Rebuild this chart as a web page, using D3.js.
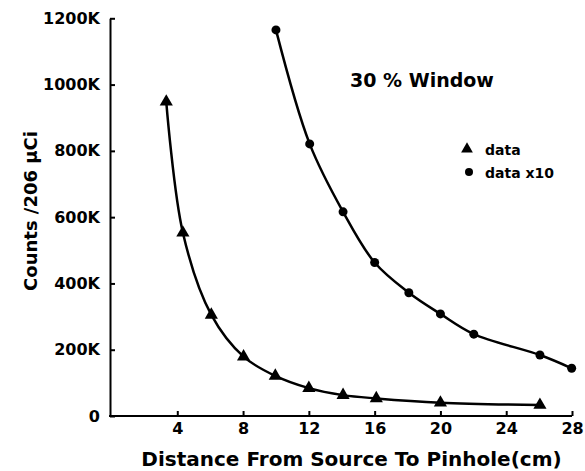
<!DOCTYPE html>
<html>
<head>
<meta charset="utf-8">
<script src="https://cdn.jsdelivr.net/npm/d3@7"></script>
<style>
  html, body { margin: 0; padding: 0; background: #fff; }
  svg { display: block; }
  text { font-family: "DejaVu Sans", sans-serif; font-weight: bold; fill: #000; }
</style>
</head>
<body>
<div id="chart"></div>
<script>
// ---- data (distance in cm, counts in thousands) ----
const triDistance = [3.33, 4.34, 6.07, 8.03, 9.96, 12.0, 14.08, 16.1, 20.0, 26.05];
const triCounts   = [948, 553, 305, 179, 121, 84, 63, 53, 40, 33];
const dotDistance = [10.0, 12.05, 14.08, 16.0, 18.08, 20.0, 22.03, 26.05, 27.98];
const dotCounts   = [1165, 821, 616, 463, 372, 308, 247, 184, 144];
const xTickValues = [4, 8, 12, 16, 20, 24, 28];
const yTickValues = [0, 200, 400, 600, 800, 1000, 1200];
const seriesNames = ["data", "data x10"];
const titleText = "30 % Window";
const xAxisTitle = "Distance From Source To Pinhole(cm)";
const yAxisTitle = "Counts /206 \u00b5Ci";

const W = 585, H = 471;
const svg = d3.select("#chart").append("svg").attr("width", W).attr("height", H);

const x = d3.scaleLinear().domain([0, 28]).range([111.5, 572]);
const y = d3.scaleLinear().domain([0, 1200]).range([416, 18.3]);

// axes
const xAxis = d3.axisBottom(x).tickValues(xTickValues).tickSizeInner(-5).tickSizeOuter(0).tickPadding(7);
const yAxis = d3.axisLeft(y).tickValues(yTickValues).tickSizeInner(-5).tickSizeOuter(0).tickPadding(10)
  .tickFormat(d => d === 0 ? "0" : d + "K");

const gx = svg.append("g").attr("transform", `translate(0,${y(0)})`).call(xAxis);
const gy = svg.append("g").attr("transform", `translate(${x(0) - 1.5},0)`).call(yAxis);
[gx, gy].forEach(g => {
  g.select(".domain").attr("stroke", "#000").attr("stroke-width", 2);
  g.selectAll(".tick line").attr("stroke", "#000").attr("stroke-width", 2);
  g.selectAll(".tick text").style("font-size", "16px").style("font-family", "DejaVu Sans").style("font-weight", "bold");
});
gx.select(".domain").attr("d", `M${x(0) - 2.5},0H${x(28)}`);

// curves
const line = d3.line().x(d => x(d[0])).y(d => y(d[1])).curve(d3.curveCatmullRom.alpha(0.5));
const triData = triDistance.map((d, i) => [d, triCounts[i]]);
const dotData = dotDistance.map((d, i) => [d, dotCounts[i]]);

svg.append("path").datum(triData).attr("d", line)
  .attr("fill", "none").attr("stroke", "#000").attr("stroke-width", 2.5);
svg.append("path").datum(dotData).attr("d", line)
  .attr("fill", "none").attr("stroke", "#000").attr("stroke-width", 2.5);

// markers
const tri = d3.symbol().type(d3.symbolTriangle).size(75);
svg.append("g").selectAll("path").data(triData).join("path")
  .attr("d", tri).attr("transform", d => `translate(${x(d[0])},${y(d[1])})`).attr("fill", "#000");
svg.append("g").selectAll("circle").data(dotData).join("circle")
  .attr("cx", d => x(d[0])).attr("cy", d => y(d[1])).attr("r", 4.5).attr("fill", "#000");

// title
svg.append("text").attr("x", 350).attr("y", 87).style("font-size", "19px").text(titleText);

// legend
const lg = svg.append("g");
lg.append("path").attr("d", d3.symbol().type(d3.symbolTriangle).size(60)).attr("transform", "translate(467,149)");
lg.append("text").attr("x", 485).attr("y", 155).style("font-size", "14px").text(seriesNames[0]);
lg.append("circle").attr("cx", 469).attr("cy", 172).attr("r", 4);
lg.append("text").attr("x", 485).attr("y", 178).style("font-size", "14px").text(seriesNames[1]);

// axis titles
svg.append("text").attr("x", 351.5).attr("y", 466).attr("text-anchor", "middle")
  .style("font-size", "20px").text(xAxisTitle);
svg.append("text").attr("transform", "translate(37,211) rotate(-90)").attr("text-anchor", "middle")
  .style("font-size", "18px").text(yAxisTitle);
</script>
</body>
</html>
